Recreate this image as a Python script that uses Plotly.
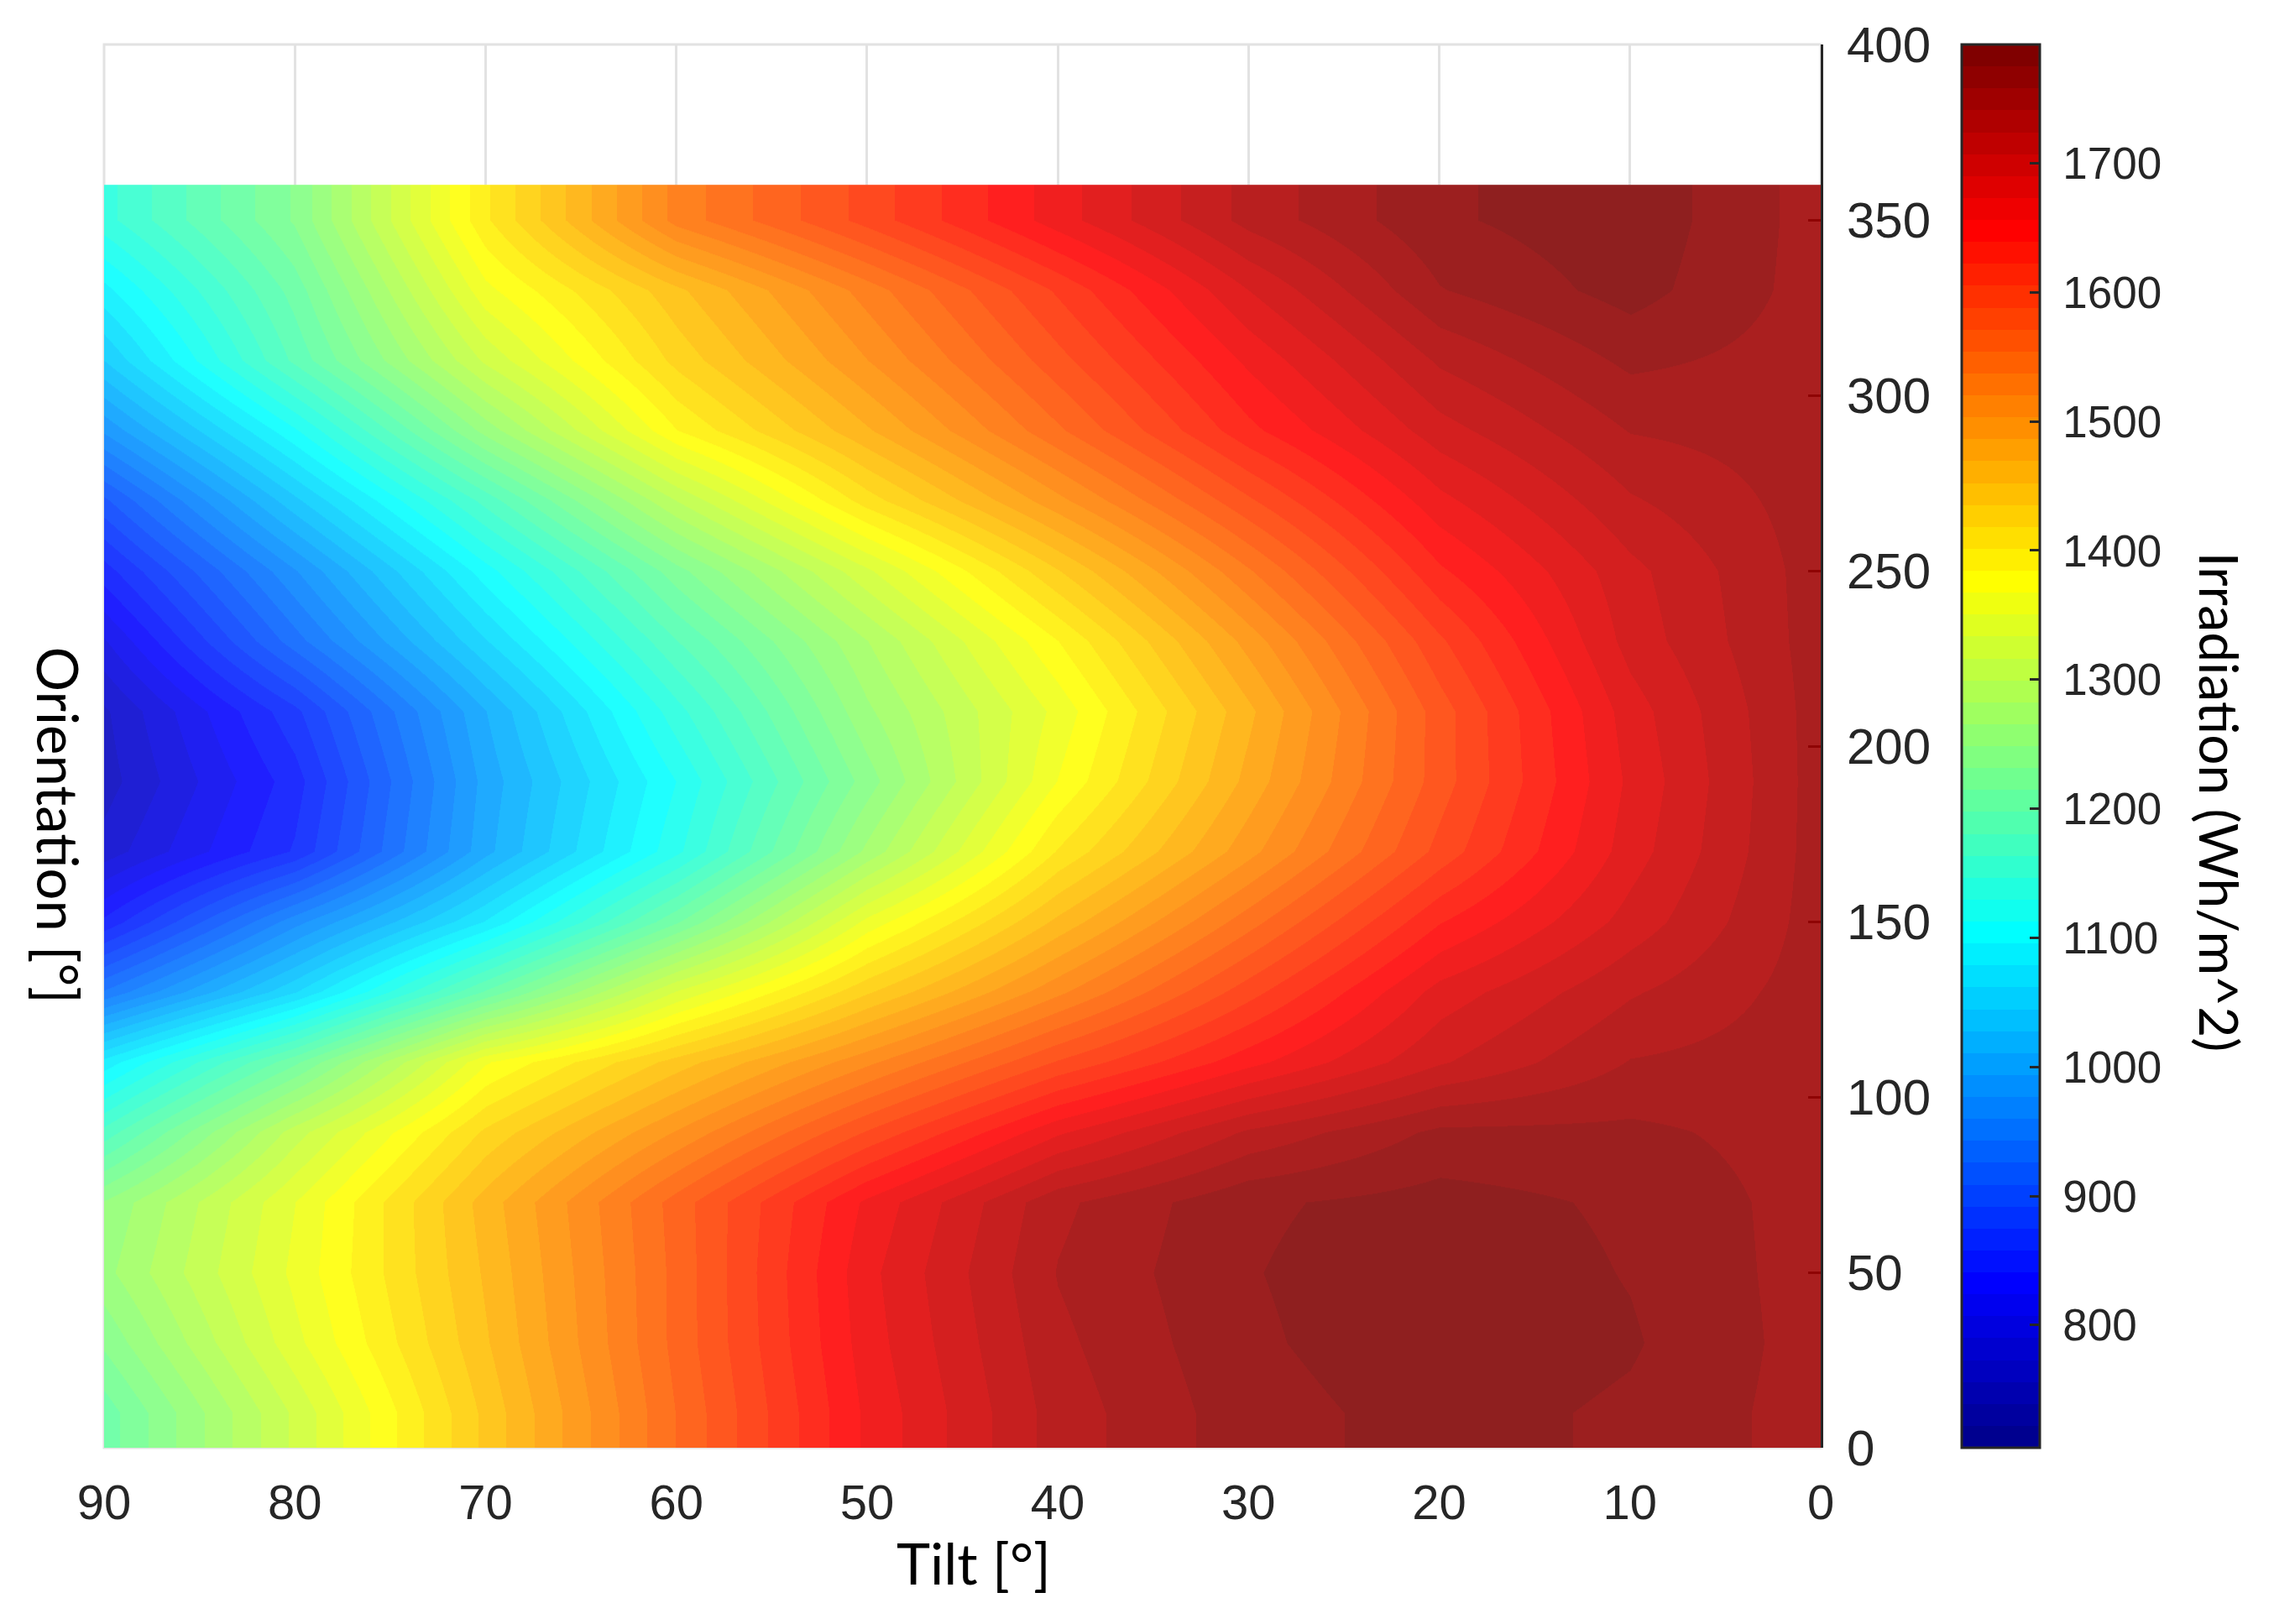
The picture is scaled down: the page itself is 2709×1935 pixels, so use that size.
import plotly.graph_objects as go

# tilt of the panel (deg), one column per value
tilt = [0, 10, 20, 30, 40, 50, 60, 70, 80, 90]

# orientation bands (deg) - edges, one row of values per band
orientation_edges = [0, 20, 40, 60, 80, 100, 120, 140, 160, 180,
                     200, 220, 240, 260, 280, 300, 320, 340, 360]

# yearly irradiation (Wh/m^2), tilt 0 -> 90
irr_010 = [1750, 1772, 1782, 1768, 1732, 1660, 1555, 1440, 1320, 1205]
irr_030 = [1750, 1777, 1787, 1772, 1737, 1665, 1560, 1450, 1345, 1235]
irr_050 = [1750, 1774, 1787, 1774, 1742, 1668, 1560, 1455, 1355, 1260]
irr_070 = [1750, 1772, 1782, 1772, 1737, 1660, 1562, 1460, 1350, 1250]
irr_090 = [1750, 1762, 1762, 1727, 1670, 1590, 1505, 1422, 1308, 1170]
irr_110 = [1750, 1742, 1705, 1650, 1590, 1516, 1443, 1365, 1210, 1085]
irr_130 = [1750, 1722, 1680, 1598, 1516, 1433, 1335, 1200, 1060, 945]
irr_150 = [1750, 1697, 1638, 1547, 1457, 1356, 1212, 1080, 970, 845]
irr_170 = [1750, 1682, 1594, 1497, 1403, 1270, 1125, 1005, 860, 780]
irr_190 = [1750, 1677, 1580, 1475, 1368, 1240, 1113, 1000, 850, 765]
irr_210 = [1750, 1682, 1580, 1465, 1356, 1262, 1140, 1010, 870, 770]
irr_230 = [1750, 1697, 1602, 1493, 1384, 1282, 1180, 1060, 935, 805]
irr_250 = [1750, 1702, 1636, 1535, 1434, 1330, 1225, 1105, 975, 850]
irr_270 = [1750, 1722, 1668, 1585, 1498, 1410, 1300, 1170, 1040, 905]
irr_290 = [1750, 1742, 1700, 1634, 1551, 1467, 1384, 1255, 1110, 980]
irr_310 = [1750, 1762, 1727, 1660, 1582, 1503, 1424, 1320, 1185, 1045]
irr_330 = [1750, 1782, 1757, 1690, 1608, 1528, 1448, 1362, 1205, 1090]
irr_350 = [1750, 1787, 1772, 1730, 1665, 1595, 1527, 1398, 1234, 1140]

tilt_ticks = [90, 80, 70, 60, 50, 40, 30, 20, 10, 0]
orientation_ticks = [0, 50, 100, 150, 200, 250, 300, 350, 400]
colorbar_ticks = [800, 900, 1000, 1100, 1200, 1300, 1400, 1500, 1600, 1700]
c_min, c_max = 705, 1792


def matlab_jet(n=64):
    # same construction as matlab's jet(n)
    m = -(-n // 4)
    u = [i / m for i in range(1, m + 1)] + [1.0] * (m - 1) + [i / m for i in range(m, 0, -1)]
    g0 = -(-m // 2) - (1 if n % 4 == 1 else 0)
    g = [g0 + k for k in range(1, len(u) + 1)]
    r = [x + m for x in g if x + m <= n]
    b = [x - m for x in g if x - m >= 1]
    g = [x for x in g if x <= n]
    jet = [[0.0, 0.0, 0.0] for _ in range(n)]
    for k, i in enumerate(r):
        jet[i - 1][0] = u[k]
    for k, i in enumerate(g):
        jet[i - 1][1] = u[k]
    for k, i in enumerate(b):
        jet[i - 1][2] = u[len(u) - len(b) + k]
    return jet


def stepped_scale(colors):
    # discrete bands like a 64 entry colormap
    n = len(colors)
    scale = []
    for i, (r, g, b) in enumerate(colors):
        c = f"rgb({round(r * 255)},{round(g * 255)},{round(b * 255)})"
        scale.append([i / n, c])
        scale.append([(i + 1) / n, c])
    return scale


z = [irr_010, irr_030, irr_050, irr_070, irr_090, irr_110, irr_130, irr_150, irr_170,
     irr_190, irr_210, irr_230, irr_250, irr_270, irr_290, irr_310, irr_330, irr_350]

tick_col = "#262626"
box_col = "#e2e2e2"
num_font = "Liberation Sans, Arial, sans-serif"
title_font = "Lato, Open Sans, sans-serif"

fig = go.Figure()
fig.add_trace(go.Heatmap(
    x=tilt,
    y=orientation_edges,
    z=z,
    zsmooth="best",
    opacity=0.88,  # faceted matlab surface looks a bit washed out
    colorscale=stepped_scale(matlab_jet(64)),
    zmin=c_min,
    zmax=c_max,
    hoverinfo="x+y+z",
    colorbar=dict(
        x=1.0822, xanchor="left",
        y=0.5, yanchor="middle",
        len=1.0, lenmode="fraction",
        thickness=93, thicknessmode="pixels",
        xpad=0, ypad=0,
        outlinewidth=3, outlinecolor=tick_col,
        ticks="inside", ticklen=13, tickwidth=3, tickcolor=tick_col,
        tickvals=colorbar_ticks,
        ticktext=["\u00a0" + str(v) for v in colorbar_ticks],
        tickfont=dict(family=num_font, size=53, color=tick_col),
    ),
))

fig.update_xaxes(
    range=[90, 0],
    tickvals=tilt_ticks,
    showgrid=True, gridcolor=box_col, gridwidth=3,
    zeroline=False, showline=False,
    ticks="", ticklabelstandoff=26,
    tickfont=dict(family="Liberation Sans Narrow, " + num_font, size=58, color=tick_col),
    layer="below traces",
)
fig.update_yaxes(
    range=[0, 400],
    side="right",
    tickvals=orientation_ticks,
    showgrid=False,
    zeroline=False,
    showline=True, linecolor=tick_col, linewidth=3,
    ticks="inside", ticklen=15, tickwidth=3, tickcolor=tick_col,
    ticklabelstandoff=16,
    tickfont=dict(family=num_font, size=60, color=tick_col),
    layer="below traces",
)

fig.update_layout(
    width=2709, height=1935,
    margin=dict(l=116, r=548, t=43, b=218),
    paper_bgcolor="white", plot_bgcolor="white",
    showlegend=False,
    shapes=[
        # light axes box (top and left edges show above the data)
        dict(type="rect", xref="paper", yref="paper", x0=0, x1=1, y0=0, y1=1,
             line=dict(color=box_col, width=3), layer="below"),
        # white backing under the surface so grid lines don't show through
        dict(type="rect", xref="x", yref="y",
             x0=min(tilt), x1=max(tilt), y0=orientation_edges[0], y1=orientation_edges[-1],
             fillcolor="white", line=dict(width=0), layer="between"),
    ],
    annotations=[
        dict(text="Tilt [°]", x=0.5066, y=-0.0818, xref="paper", yref="paper",
             xanchor="center", yanchor="middle", showarrow=False,
             font=dict(family=title_font, size=68, color="black")),
        dict(text="Orientation [°]", x=-0.0264, y=0.444, xref="paper", yref="paper",
             xanchor="center", yanchor="middle", showarrow=False, textangle=90,
             font=dict(family=title_font, size=67, color="black")),
        dict(text="Irradiation (Wh/m^2)", x=1.2323, y=0.46, xref="paper", yref="paper",
             xanchor="center", yanchor="middle", showarrow=False, textangle=90,
             font=dict(family=title_font, size=64, color="black")),
    ],
)

fig.write_html("out.html")
